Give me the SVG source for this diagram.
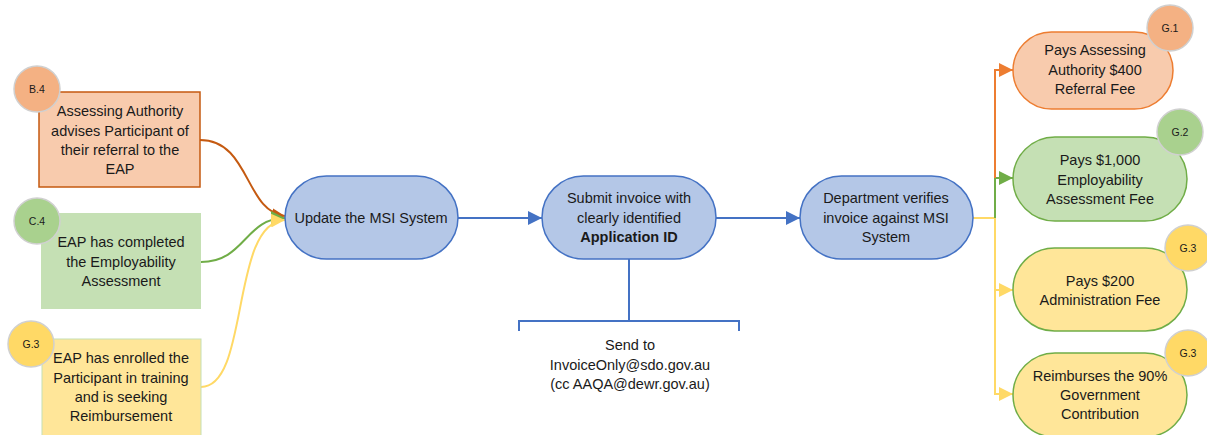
<svg xmlns="http://www.w3.org/2000/svg" width="1207" height="435" viewBox="0 0 1207 435">
<defs>
<marker id="aBlue" viewBox="0 0 10 10" refX="10" refY="5" markerWidth="14" markerHeight="14" markerUnits="userSpaceOnUse" orient="auto"><path d="M0,0 L10,5 L0,10 z" fill="#4472C4"/></marker>
<marker id="aOrg" viewBox="0 0 10 10" refX="10" refY="5" markerWidth="14" markerHeight="14" markerUnits="userSpaceOnUse" orient="auto"><path d="M0,0 L10,5 L0,10 z" fill="#ED7D31"/></marker>
<marker id="aDOrg" viewBox="0 0 10 10" refX="10" refY="5" markerWidth="13" markerHeight="13" markerUnits="userSpaceOnUse" orient="auto"><path d="M0,0 L10,5 L0,10 z" fill="#C55A11"/></marker>
<marker id="aGrn" viewBox="0 0 10 10" refX="10" refY="5" markerWidth="14" markerHeight="14" markerUnits="userSpaceOnUse" orient="auto"><path d="M0,0 L10,5 L0,10 z" fill="#70AD47"/></marker>
<marker id="aYel" viewBox="0 0 10 10" refX="10" refY="5" markerWidth="14" markerHeight="14" markerUnits="userSpaceOnUse" orient="auto"><path d="M0,0 L10,5 L0,10 z" fill="#FFD966"/></marker>
</defs>
<style>
text{font-family:"Liberation Sans",Arial,sans-serif;font-size:14.5px;fill:#1a1a1a;text-anchor:middle}
.b{font-size:10.5px}
.bold{font-weight:bold}
.blue{fill:#B4C7E7;stroke:#4472C4;stroke-width:1.5}
.badge{stroke:#D0D0D0;stroke-width:1.5}
.ln{fill:none;stroke-width:2}
</style>
<rect width="1207" height="435" fill="#ffffff"/>

<g id="connectors">
<path class="ln" d="M200,140 C250,140 245,212 285,216" stroke="#C55A11" marker-end="url(#aDOrg)"/>
<path class="ln" d="M201,262 C245,262 245,218 285,218" stroke="#70AD47" marker-end="url(#aGrn)"/>
<path class="ln" d="M201,387 C250,387 230,222 285,220" stroke="#FFD966" marker-end="url(#aYel)"/>
<path class="ln" d="M458,218 L542,218" stroke="#4472C4" marker-end="url(#aBlue)"/>
<path class="ln" d="M716,218 L800,218" stroke="#4472C4" marker-end="url(#aBlue)"/>
<path class="ln" d="M629,259 L629,321 M519,331 L519,321 L739,321 L739,331" stroke="#4472C4" stroke-width="1.5"/>
<path class="ln" d="M973,218 L995,218 L995,394 L1013,394" stroke="#FFD966" marker-end="url(#aYel)"/>
<path class="ln" d="M995,290 L1013,290" stroke="#FFD966" marker-end="url(#aYel)"/>
<path class="ln" d="M995,218 L995,178 L1013,178" stroke="#70AD47" marker-end="url(#aGrn)"/>
<path class="ln" d="M995,178 L995,70 L1013,70" stroke="#ED7D31" marker-end="url(#aOrg)"/>
</g>

<g id="b4">
<rect x="39" y="92" width="161" height="95" fill="#F8CBAD" stroke="#C55A11" stroke-width="1.5"/>
<text x="120" y="116">Assessing Authority</text>
<text x="120" y="136">advises Participant of</text>
<text x="120" y="155">their referral to the</text>
<text x="120" y="174">EAP</text>
<circle class="badge" cx="37" cy="89" r="23" fill="#F4B183"/>
<text class="b" x="37" y="93">B.4</text>
</g>

<g id="c4">
<rect x="41" y="213" width="160" height="96" fill="#C5E0B4"/>
<text x="121" y="247">EAP has completed</text>
<text x="121" y="267">the Employability</text>
<text x="121" y="286">Assessment</text>
<circle class="badge" cx="37" cy="221" r="23" fill="#A9D18E"/>
<text class="b" x="37" y="225">C.4</text>
</g>

<g id="g3left">
<rect x="42" y="339" width="159" height="97" fill="#FFE699" stroke="#C5E0B4" stroke-width="1"/>
<text x="121" y="363">EAP has enrolled the</text>
<text x="121" y="383">Participant in training</text>
<text x="121" y="402">and is seeking</text>
<text x="121" y="421">Reimbursement</text>
<circle class="badge" cx="31" cy="344" r="23" fill="#FFD966"/>
<text class="b" x="31" y="348">G.3</text>
</g>

<g id="update">
<rect class="blue" x="285" y="176" width="173" height="83" rx="41.5"/>
<text x="371" y="223">Update the MSI System</text>
</g>

<g id="submit">
<rect class="blue" x="542" y="176" width="174" height="83" rx="41.5"/>
<text x="629" y="203">Submit invoice with</text>
<text x="629" y="223">clearly identified</text>
<text class="bold" x="629" y="242">Application ID</text>
</g>

<g id="sendto">
<text x="630" y="350">Send to</text>
<text x="630" y="370">InvoiceOnly@sdo.gov.au</text>
<text x="630" y="389">(cc AAQA@dewr.gov.au)</text>
</g>

<g id="verify">
<rect class="blue" x="800" y="176" width="173" height="83" rx="41.5"/>
<text x="886" y="203">Department verifies</text>
<text x="886" y="223">invoice against MSI</text>
<text x="886" y="242">System</text>
</g>

<g id="g1">
<rect x="1013" y="32" width="160" height="77" rx="38.5" fill="#F8CBAD" stroke="#ED7D31" stroke-width="1.5"/>
<text x="1095" y="55">Pays Assessing</text>
<text x="1095" y="75">Authority $400</text>
<text x="1095" y="94">Referral Fee</text>
<circle class="badge" cx="1170" cy="28" r="23" fill="#F4B183"/>
<text class="b" x="1170" y="32">G.1</text>
</g>

<g id="g2">
<rect x="1013" y="137" width="174" height="84" rx="42" fill="#C5E0B4" stroke="#70AD47" stroke-width="1.5"/>
<text x="1100" y="165">Pays $1,000</text>
<text x="1100" y="185">Employability</text>
<text x="1100" y="204">Assessment Fee</text>
<circle class="badge" cx="1180" cy="132" r="23" fill="#A9D18E"/>
<text class="b" x="1180" y="136">G.2</text>
</g>

<g id="g3a">
<rect x="1013" y="248" width="174" height="83" rx="41.5" fill="#FFE699" stroke="#70AD47" stroke-width="1.5"/>
<text x="1100" y="286">Pays $200</text>
<text x="1100" y="305">Administration Fee</text>
<circle class="badge" cx="1188" cy="248" r="23" fill="#FFD966"/>
<text class="b" x="1188" y="252">G.3</text>
</g>

<g id="g3b">
<rect x="1013" y="353" width="174" height="84" rx="42" fill="#FFE699" stroke="#70AD47" stroke-width="1.5"/>
<text x="1100" y="381">Reimburses the 90%</text>
<text x="1100" y="400">Government</text>
<text x="1100" y="419">Contribution</text>
<circle class="badge" cx="1188" cy="353" r="23" fill="#FFD966"/>
<text class="b" x="1188" y="357">G.3</text>
</g>
</svg>
